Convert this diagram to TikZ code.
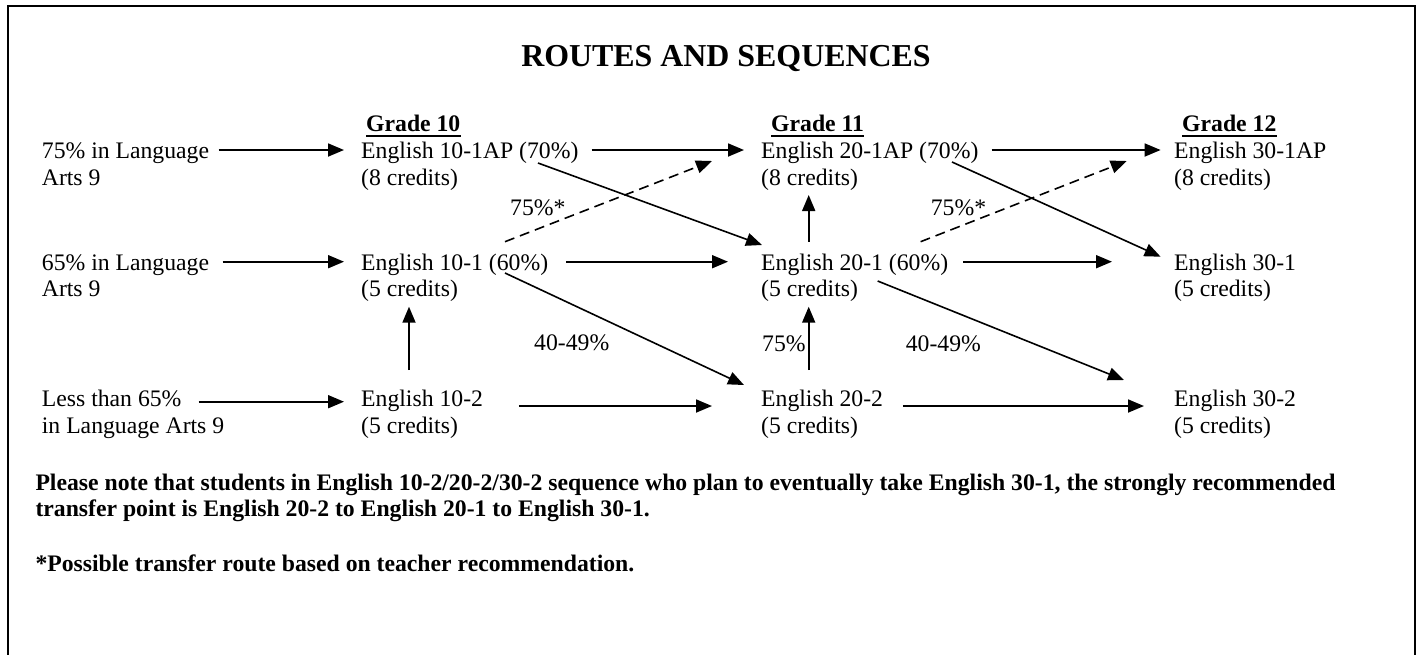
\documentclass[tikz,border=0pt]{standalone}
\usepackage{fontspec}
\setmainfont{Liberation Serif}
\usetikzlibrary{arrows.meta}
\newcommand\rsbody{\fontsize{23.7pt}{26.3pt}\selectfont}
\newcommand\rstitle{\fontsize{31.9pt}{36pt}\selectfont\bfseries}
\begin{document}
\begin{tikzpicture}[x=1pt,y=-1pt,
  txt/.style={inner sep=0pt,anchor=base west,font=\rsbody},
  hdr/.style={inner sep=0pt,anchor=base west,font=\rsbody\bfseries},
  note/.style={inner sep=0pt,anchor=base west,font=\rsbody\bfseries},
  uline/.style={line width=1.8pt},
  frame/.style={line width=2pt},
  arr/.style={line width=1.8pt,-{Triangle[length=16pt,width=13pt]}},
  darr/.style={line width=1.6pt,dash pattern=on 10pt off 6pt,-{Triangle[length=16pt,width=13pt]}},
  sarr/.style={line width=1.6pt,-{Triangle[length=16pt,width=13pt]}}]
\useasboundingbox (0,0) rectangle (1420,654);
\draw[frame] (8,660) -- (8,6) -- (1415,6) -- (1415,660);

\node[inner sep=0pt,anchor=base,font=\rstitle] (title) at (726,66.7) {ROUTES AND SEQUENCES};

\node[hdr] (g10) at (366,131.7) {Grade 10};
\node[hdr] (g11) at (771,131.7) {Grade 11};
\node[hdr] (g12) at (1182,131.7) {Grade 12};
\foreach \g in {g10,g11,g12}
  \draw[uline] ([yshift=-4pt]\g.base west) -- ([yshift=-4pt]\g.base east);

% left column
\node[txt] (l1) at (41.7,158.7) {75\% in Language};
\node[txt] (l1b) at (41.7,185) {Arts 9};
\node[txt] (l2) at (41.7,270) {65\% in Language};
\node[txt] (l2b) at (41.7,296.5) {Arts 9};
\node[txt] (l3) at (41.7,406.5) {Less than 65\%};
\node[txt] (l3b) at (41.7,433) {in Language Arts 9};

% grade 10
\node[txt] (a10) at (361,158.7) {English 10-1AP (70\%)};
\node[txt] (a10c) at (361,185) {(8 credits)};
\node[txt] (b10) at (361,270) {English 10-1 (60\%)};
\node[txt] (b10c) at (361,296.5) {(5 credits)};
\node[txt] (c10) at (361,406.5) {English 10-2};
\node[txt] (c10c) at (361,433) {(5 credits)};

% grade 11
\node[txt] (a20) at (761,158.7) {English 20-1AP (70\%)};
\node[txt] (a20c) at (761,185) {(8 credits)};
\node[txt] (b20) at (761,270) {English 20-1 (60\%)};
\node[txt] (b20c) at (761,296.5) {(5 credits)};
\node[txt] (c20) at (761,406.5) {English 20-2};
\node[txt] (c20c) at (761,433) {(5 credits)};

% grade 12
\node[txt] (a30) at (1174,158.7) {English 30-1AP};
\node[txt] (a30c) at (1174,185) {(8 credits)};
\node[txt] (b30) at (1174,270) {English 30-1};
\node[txt] (b30c) at (1174,296.5) {(5 credits)};
\node[txt] (c30) at (1174,406.5) {English 30-2};
\node[txt] (c30c) at (1174,433) {(5 credits)};

% edge labels
\node[txt] (p1) at (510,215) {75\%*};
\node[txt] (p2) at (930.6,215) {75\%*};
\node[txt] (p3) at (534,350) {40-49\%};
\node[txt] (p4) at (762,351.7) {75\%};
\node[txt] (p5) at (905.6,351) {40-49\%};

% notes
\node[note] (n1) at (35.3,490.7) {Please note that students in English 10-2/20-2/30-2 sequence who plan to eventually take English 30-1, the strongly recommended};
\node[note] (n2) at (35.3,516.7) {transfer point is English 20-2 to English 20-1 to English 30-1.};
\node[note] (n3) at (35.3,571.7) {*Possible transfer route based on teacher recommendation.};

% horizontal arrows
\draw[arr] ([xshift=9.3pt,yshift=8.7pt]l1.base east) -- ([xshift=-17pt,yshift=8.7pt]a10.base west);
\draw[arr] ([xshift=13pt,yshift=8.7pt]a10.base east) -- ([xshift=-17pt,yshift=8.7pt]a20.base west);
\draw[arr] ([xshift=13pt,yshift=8.7pt]a20.base east) -- ([xshift=-13.4pt,yshift=8.7pt]a30.base west);

\draw[arr] ([xshift=13.3pt,yshift=8.3pt]l2.base east) -- ([xshift=-17pt,yshift=8.3pt]b10.base west);
\draw[arr] ([xshift=17.7pt,yshift=8.3pt]b10.base east) -- ([xshift=-33pt,yshift=8.3pt]b20.base west);
\draw[arr] ([xshift=14.7pt,yshift=8.3pt]b20.base east) -- ([xshift=-62pt,yshift=8.3pt]b30.base west);

\draw[arr] ([xshift=17pt,yshift=4.8pt]l3.base east) -- ([xshift=-17pt,yshift=4.8pt]c10.base west);
\draw[arr] ([xshift=35.7pt,yshift=0.5pt]c10.base east) -- ([xshift=-49pt,yshift=0.5pt]c20.base west);
\draw[arr] ([xshift=19.7pt,yshift=0.5pt]c20.base east) -- ([xshift=-30pt,yshift=0.5pt]c30.base west);

% vertical arrows
\draw[arr] ([xshift=48pt,yshift=36.5pt]c10.base west) -- ([xshift=48pt,yshift=-10.2pt]b10c.base west);
\draw[arr] ([xshift=47.7pt,yshift=28.3pt]b20.base west) -- ([xshift=47.7pt,yshift=-10pt]a20c.base west);
\draw[arr] ([xshift=47.7pt,yshift=36.5pt]c20.base west) -- ([xshift=47.7pt,yshift=-10.2pt]b20c.base west);

% diagonal arrows
\draw[sarr] ([xshift=177pt,yshift=-4.3pt]a10.base west) -- ([xshift=1pt,yshift=25pt]b20.base west);
\draw[sarr] ([xshift=144pt,yshift=-3pt]b10.base west) -- ([xshift=-17pt,yshift=21.5pt]c20.base west);
\draw[sarr] ([xshift=191pt,yshift=-3.3pt]a20.base west) -- ([xshift=-13.4pt,yshift=13.3pt]b30.base west);
\draw[sarr] ([xshift=19.5pt,yshift=15.5pt]b20c.base east) -- ([xshift=-50pt,yshift=26.5pt]c30.base west);

% dashed arrows
\draw[darr] ([xshift=144pt,yshift=28.3pt]b10.base west) -- ([xshift=-49pt,yshift=-2.3pt]a20.base west);
\draw[darr] ([xshift=159.6pt,yshift=28.3pt]b20.base west) -- ([xshift=-47.3pt,yshift=-2.3pt]a30.base west);
\end{tikzpicture}
\end{document}
